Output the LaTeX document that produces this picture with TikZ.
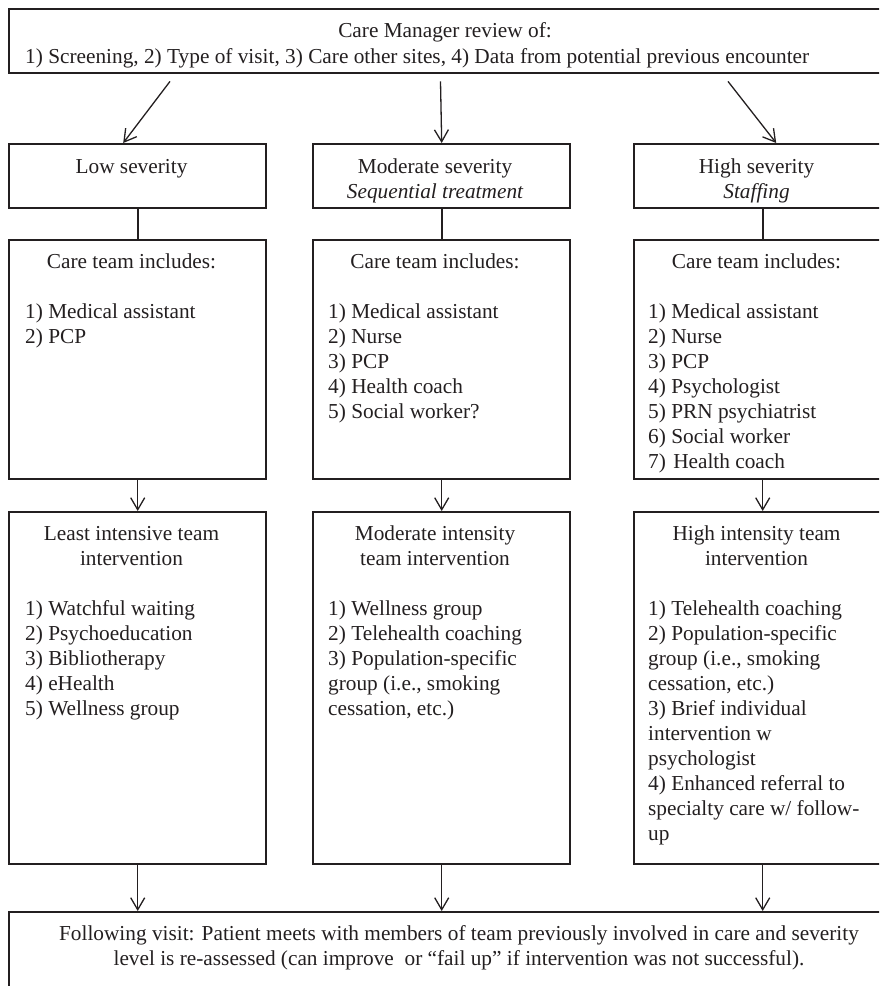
\documentclass[tikz,border=0pt]{standalone}
\usepackage{fontspec}
\setmainfont{Liberation Serif}
\usetikzlibrary{arrows.meta}
\definecolor{ink}{HTML}{231F20}
\begin{document}
\begin{tikzpicture}[x=1pt,y=-1pt,
  box/.style={draw=ink, line width=2.4pt, anchor=north west, inner sep=0pt, minimum width=257pt},
  txt/.style={text=ink, font=\fontsize{21.3}{25}\selectfont, inner sep=0pt},
  ctr/.style={txt, anchor=base},
  lft/.style={txt, anchor=base west},
  link/.style={draw=ink, line width=2.4pt},
  arr/.style={draw=ink, line width=1.3pt, -{Straight Barb[length=12pt,width=14pt,line width=1.3pt]}}]
\useasboundingbox (0,0) rectangle (879,986);
\clip (0,0) rectangle (879,986);

% boxes
\node[box, minimum width=890pt, minimum height=64pt] (top) at (8,8) {};
\node[box, minimum height=64pt] (low1) at (8,143) {};
\node[box, minimum height=64pt] (mid1) at (312,143) {};
\node[box, minimum height=64pt] (high1) at (633,143) {};
\node[box, minimum height=239pt] (low2) at (8,239) {};
\node[box, minimum height=239pt] (mid2) at (312,239) {};
\node[box, minimum height=239pt] (high2) at (633,239) {};
\node[box, minimum height=352pt] (low3) at (8,511) {};
\node[box, minimum height=352pt] (mid3) at (312,511) {};
\node[box, minimum height=352pt] (high3) at (633,511) {};
\node[box, minimum width=902pt, minimum height=120pt] (bot) at (8,911) {};

% top text
\node[ctr] (t1) at (445,37) {Care Manager review of:};
\node[lft] (t2) at (25,63) {1) Screening, 2) Type of visit, 3) Care other sites, 4) Data from potential previous encounter};

% row 1
\node[ctr] (l1a) at (131.5,173) {Low severity};
\node[ctr] (m1a) at (435,173) {Moderate severity};
\node[ctr] (m1b) at (435,198) {\itshape Sequential treatment};
\node[ctr] (h1a) at (756.5,173) {High severity};
\node[ctr] (h1b) at (756.5,198) {\itshape Staffing};

% row 2
\node[ctr] (l2t) at (131.5,268) {Care team includes:};
\node[ctr] (m2t) at (435,268) {Care team includes:};
\node[ctr] (h2t) at (756.5,268) {Care team includes:};
\node[lft] (l2a) at (25,318) {1) Medical assistant};
\node[lft] (l2b) at (25,343) {2) PCP};
\node[lft] (m2a) at (328,318) {1) Medical assistant};
\node[lft] (m2b) at (328,343) {2) Nurse};
\node[lft] (m2c) at (328,368) {3) PCP};
\node[lft] (m2d) at (328,393) {4) Health coach};
\node[lft] (m2e) at (328,418) {5) Social worker?};
\node[lft] (h2a) at (648,318) {1) Medical assistant};
\node[lft] (h2b) at (648,343) {2) Nurse};
\node[lft] (h2c) at (648,368) {3) PCP};
\node[lft] (h2d) at (648,393) {4) Psychologist};
\node[lft] (h2e) at (648,418) {5) PRN psychiatrist};
\node[lft] (h2f) at (648,443) {6) Social worker};
\node[lft] (h2g) at (648,468) {7)\hspace{2pt} Health coach};

% row 3
\node[ctr] (l3t) at (131.5,540) {Least intensive team};
\node[ctr] (l3u) at (131.5,565) {intervention};
\node[ctr] (m3t) at (435,540) {Moderate intensity};
\node[ctr] (m3u) at (435,565) {team intervention};
\node[ctr] (h3t) at (756.5,540) {High intensity team};
\node[ctr] (h3u) at (756.5,565) {intervention};
\node[lft] (l3a) at (25,615) {1) Watchful waiting};
\node[lft] (l3b) at (25,640) {2) Psychoeducation};
\node[lft] (l3c) at (25,665) {3) Bibliotherapy};
\node[lft] (l3d) at (25,690) {4) eHealth};
\node[lft] (l3e) at (25,715) {5) Wellness group};
\node[lft] (m3a) at (328,615) {1) Wellness group};
\node[lft] (m3b) at (328,640) {2) Telehealth coaching};
\node[lft] (m3c) at (328,665) {3) Population-specific};
\node[lft] (m3d) at (328,690) {group (i.e., smoking};
\node[lft] (m3e) at (328,715) {cessation, etc.)};
\node[lft] (h3a) at (648,615) {1) Telehealth coaching};
\node[lft] (h3b) at (648,640) {2) Population-specific};
\node[lft] (h3c) at (648,665) {group (i.e., smoking};
\node[lft] (h3d) at (648,690) {cessation, etc.)};
\node[lft] (h3e) at (648,715) {3) Brief individual};
\node[lft] (h3f) at (648,740) {intervention w};
\node[lft] (h3g) at (648,765) {psychologist};
\node[lft] (h3h) at (648,790) {4) Enhanced referral to};
\node[lft] (h3i) at (648,815) {specialty care w/ follow-};
\node[lft] (h3j) at (648,840) {up};

% bottom
\node[ctr] (b1) at (459,940) {Following visit: Patient meets with members of team previously involved in care and severity};
\node[ctr] (b2) at (459,965) {level is re-assessed (can improve\ \ or “fail up” if intervention was not successful).};

% connectors
\draw[arr] ([shift={(162pt,-7pt)}]top.south west) -- ([xshift=-14.5pt]low1.north);
\draw[arr] ([shift={(432.5pt,-7pt)}]top.south west) -- (mid1.north);
\draw[arr] ([shift={(720pt,-7pt)}]top.south west) -- ([xshift=13.5pt]high1.north);
\draw[link] (low1.south) -- (low2.north);
\draw[link] (mid1.south) -- (mid2.north);
\draw[link] (high1.south) -- (high2.north);
\draw[arr] (low2.south) -- (low3.north);
\draw[arr] (mid2.south) -- (mid3.north);
\draw[arr] (high2.south) -- (high3.north);
\draw[arr] (low3.south) -- (low3.south |- bot.north);
\draw[arr] (mid3.south) -- (mid3.south |- bot.north);
\draw[arr] (high3.south) -- (high3.south |- bot.north);
\end{tikzpicture}
\end{document}
